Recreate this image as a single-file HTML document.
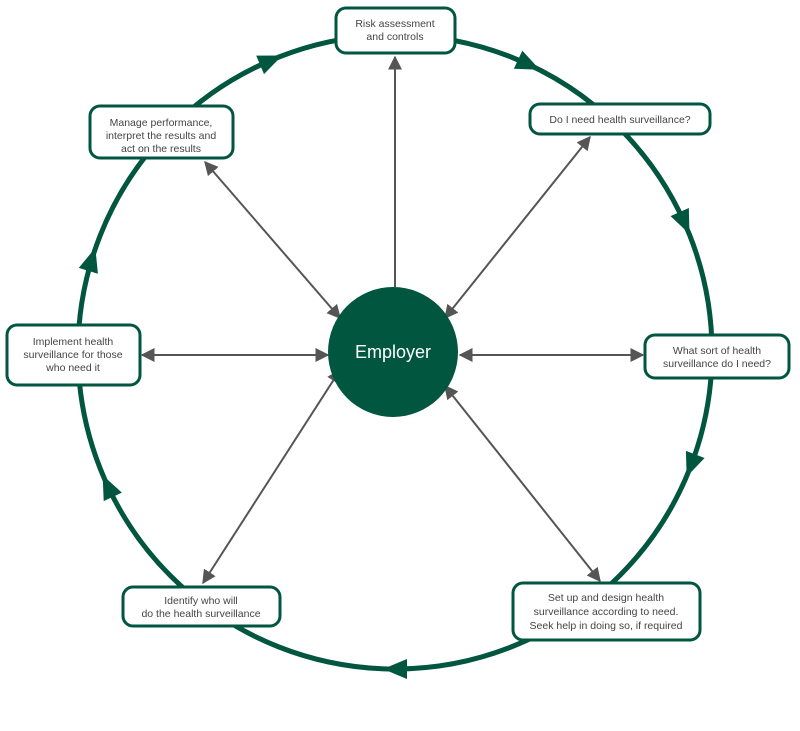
<!DOCTYPE html>
<html><head><style>
body{margin:0;background:#fff;}
svg text{font-family:"Liberation Sans",sans-serif;font-size:10.5px;fill:#444;text-anchor:middle;}
</style></head><body>
<svg width="800" height="726" viewBox="0 0 800 726" xmlns="http://www.w3.org/2000/svg">
<defs>
<marker id="a" viewBox="0 0 10 10" refX="9" refY="5" markerWidth="7" markerHeight="7" orient="auto-start-reverse"><path d="M0,0L10,5L0,10z" fill="#555"/></marker>
</defs>
<circle cx="395" cy="352" r="317" fill="none" stroke="#00563f" stroke-width="5"/>
<g fill="#00563f">
<g transform="rotate(-113 395 352)"><path d="M702,340L722,340L712,364z"/></g>
<g transform="rotate(-65 395 352)"><path d="M702,340L722,340L712,364z"/></g>
<g transform="rotate(-24 395 352)"><path d="M702,340L722,340L712,364z"/></g>
<g transform="rotate(21 395 352)"><path d="M702,340L722,340L712,364z"/></g>
<g transform="rotate(90 395 352)"><path d="M702,340L722,340L712,364z"/></g>
<g transform="rotate(155 395 352)"><path d="M702,340L722,340L712,364z"/></g>
<g transform="rotate(197 395 352)"><path d="M702,340L722,340L712,364z"/></g>
</g>
<g stroke="#555" stroke-width="2">
<line x1="395" y1="287" x2="395" y2="57" marker-end="url(#a)"/>
<line x1="445" y1="318" x2="590" y2="137" marker-start="url(#a)" marker-end="url(#a)"/>
<line x1="460" y1="355" x2="643" y2="355" marker-start="url(#a)" marker-end="url(#a)"/>
<line x1="445" y1="386" x2="600" y2="581" marker-start="url(#a)" marker-end="url(#a)"/>
<line x1="340" y1="370" x2="203" y2="583" marker-start="url(#a)" marker-end="url(#a)"/>
<line x1="328" y1="355" x2="142" y2="355" marker-start="url(#a)" marker-end="url(#a)"/>
<line x1="340" y1="318" x2="205" y2="162" marker-start="url(#a)" marker-end="url(#a)"/>
</g>
<circle cx="393" cy="352" r="65" fill="#00563f"/>
<text x="393" y="358" style="font-size:18px;fill:#fff">Employer</text>
<g fill="#fff" stroke="#00563f" stroke-width="3">
<rect x="336" y="8" width="119" height="45" rx="10"/>
<rect x="530" y="104" width="180" height="30" rx="10"/>
<rect x="645" y="335" width="144" height="43" rx="10"/>
<rect x="513" y="583" width="187" height="57" rx="10"/>
<rect x="123" y="587" width="157" height="39" rx="10"/>
<rect x="7" y="325" width="133" height="60" rx="10"/>
<rect x="90" y="106" width="143" height="52" rx="10"/>
</g>
<text x="395" y="27">Risk assessment</text><text x="395" y="40">and controls</text>
<text x="620" y="123">Do I need health surveillance?</text>
<text x="717" y="354">What sort of health</text><text x="717" y="367">surveillance do I need?</text>
<text x="606" y="601">Set up and design health</text><text x="606" y="615">surveillance according to need.</text><text x="606" y="629">Seek help in doing so, if required</text>
<text x="201" y="604">Identify who will</text><text x="201" y="617">do the health surveillance</text>
<text x="73" y="345">Implement health</text><text x="73" y="358">surveillance for those</text><text x="73" y="371">who need it</text>
<text x="161" y="126">Manage performance,</text><text x="161" y="139">interpret the results and</text><text x="161" y="152">act on the results</text>
</svg>
</body></html>
